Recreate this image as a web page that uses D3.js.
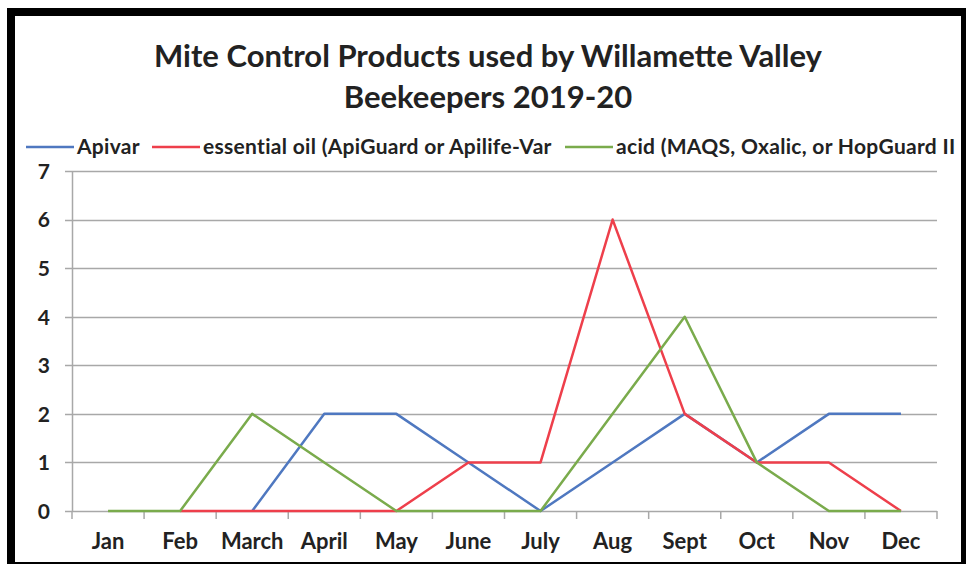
<!DOCTYPE html>
<html lang="en">
  <head>
    <meta charset="utf-8">
    <title>Mite Control Products</title>
    <script src="https://d3js.org/d3.v7.min.js"></script>
    <style>
      body { margin: 0; background: #fff; }
      text { font-family: Lato, "Open Sans", sans-serif; font-weight: bold; fill: #222; }
    </style>
  </head>
  <body>
    <script type="text/javascript">
    // data
    var months = ["Jan", "Feb", "March", "April", "May", "June", "July", "Aug", "Sept", "Oct", "Nov", "Dec"];
    var apivar = [null, null, 0, 2, 2, 1, 0, 1, 2, 1, 2, 2];
    var essentialOil = [null, 0, 0, 0, 0, 1, 1, 6, 2, 1, 1, 0];
    var acid = [0, 0, 2, 1, 0, 0, 0, 2, 4, 1, 0, 0];
    var yTicks = [0, 1, 2, 3, 4, 5, 6, 7];
    var seriesNames = ["Apivar", "essential oil (ApiGuard or Apilife-Var", "acid (MAQS, Oxalic, or HopGuard II"];
    var seriesColors = ["#4f78c0", "#ee3f4b", "#7aab4c"];

    var w = 966;
    var h = 564;

    var series = [apivar, essentialOil, acid];

    var xScale = d3.scaleBand()
                   .domain(months)
                   .range([72, 937]);

    var yScale = d3.scaleLinear()
                   .domain([0, 7])
                   .range([511, 171]);

    var svg = d3.select("body")
                .append("svg")
                .attr("width", w)
                .attr("height", h);

    // gridlines
    svg.append("g")
       .selectAll("line")
       .data(yTicks)
       .enter()
       .append("line")
       .attr("x1", 65)
       .attr("x2", 937)
       .attr("y1", function(d) { return Math.round(yScale(d)) + 0.5; })
       .attr("y2", function(d) { return Math.round(yScale(d)) + 0.5; })
       .attr("stroke", "#a8a8a8")
       .attr("stroke-width", 1.5);

    // y axis
    var yAxis = d3.axisLeft(yScale)
                  .tickValues(yTicks)
                  .tickSize(0)
                  .tickPadding(22)
                  .tickFormat(d3.format("d"));
    var yg = svg.append("g")
       .attr("transform", "translate(72,0)")
       .call(yAxis);
    yg.select(".domain").attr("stroke", "#a8a8a8").attr("stroke-width", 1.5);
    yg.selectAll("text").style("font-size", "21px").attr("dy", "0.35em");

    // x axis
    var xAxis = d3.axisBottom(xScale)
                  .tickSize(0)
                  .tickPadding(22);
    var xg = svg.append("g")
       .attr("transform", "translate(0,511)")
       .call(xAxis);
    xg.select(".domain").remove();
    xg.selectAll("text").style("font-size", "22px");

    // x ticks at band edges
    var edges = months.map(function(m) { return xScale(m); }).concat([xScale.range()[1]]);
    svg.append("g")
       .selectAll("line")
       .data(edges)
       .enter()
       .append("line")
       .attr("x1", function(d) { return d; })
       .attr("x2", function(d) { return d; })
       .attr("y1", 511)
       .attr("y2", 519)
       .attr("stroke", "#a8a8a8")
       .attr("stroke-width", 1.5);

    // lines
    var line = d3.line()
                 .defined(function(d) { return d != null; })
                 .x(function(d, i) { return xScale(months[i]) + xScale.bandwidth() / 2; })
                 .y(function(d) { return yScale(d); });

    svg.append("g")
       .selectAll("path")
       .data(series)
       .enter()
       .append("path")
       .attr("d", line)
       .attr("fill", "none")
       .attr("stroke", function(d, i) { return seriesColors[i]; })
       .attr("stroke-width", 2.5)
       .attr("stroke-linejoin", "round");

    // legend
    var legendX = [26, 152, 565];
    var lg = svg.append("g")
       .selectAll("g")
       .data(seriesNames)
       .enter()
       .append("g")
       .attr("transform", function(d, i) { return "translate(" + legendX[i] + ",147)"; });
    lg.append("line")
      .attr("x1", 0).attr("x2", 48)
      .attr("y1", 0).attr("y2", 0)
      .attr("stroke", function(d, i) { return seriesColors[i]; })
      .attr("stroke-width", 2.5);
    lg.append("text")
      .attr("x", 51)
      .attr("y", 0)
      .attr("dy", "0.35em")
      .style("font-size", "21px")
      .style("letter-spacing", "0.3px")
      .text(function(d) { return d; });

    // title
    svg.append("text")
       .attr("x", 488)
       .attr("y", 67)
       .attr("text-anchor", "middle")
       .style("font-size", "31px")
       .text("Mite Control Products used by Willamette Valley");
    svg.append("text")
       .attr("x", 488)
       .attr("y", 108)
       .attr("text-anchor", "middle")
       .style("font-size", "31px")
       .text("Beekeepers 2019-20");

    // frame
    svg.append("path")
       .attr("fill-rule", "evenodd")
       .attr("fill", "#000")
       .attr("d", "M7,8H966V564H7Z M15,16H961V562H15Z");
    </script>
  </body>
</html>
